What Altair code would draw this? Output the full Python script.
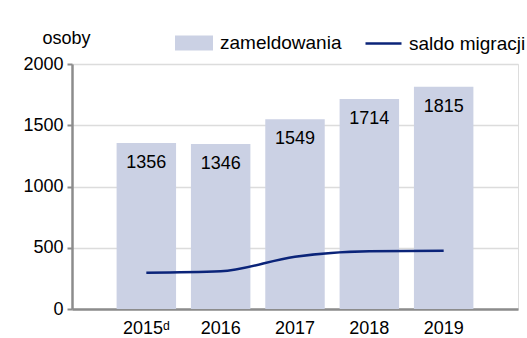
import altair as alt
import pandas as pd

years = ["2015ᵈ", "2016", "2017", "2018", "2019"]
zameldowania = [1356, 1346, 1549, 1714, 1815]
saldo = [296, 308, 427, 471, 476]

df = pd.DataFrame({
    "rok": years,
    "zameldowania": zameldowania,
    "saldo": saldo,
    "s1": ["zameldowania"] * len(years),
    "s2": ["saldo migracji"] * len(years),
})

FONT = "Liberation Sans"
FS = 18
LEG_FS = 19
BAR = "#cbd1e4"
LINE = "#0b2479"

x = alt.X(
    "rok:N",
    sort=years,
    scale=alt.Scale(paddingInner=0.2, paddingOuter=0.6),
    axis=alt.Axis(title=None, labelAngle=0, ticks=False, domainColor="#8c8c8c",
                  domainWidth=2.5, labelPadding=10, labelFontSize=FS,
                  labelColor="#000", labelFont=FONT, grid=False),
)

y_axis = alt.Axis(
    title="osoby", titleAngle=0, titleAlign="center", titleBaseline="middle",
    titleX=-6, titleY=-26, titleFontWeight="normal", titleFontSize=FS,
    titleFont=FONT, titleColor="#000", format="d",
    values=[0, 500, 1000, 1500, 2000], labelFontSize=FS, labelFont=FONT,
    labelColor="#000", labelPadding=4, tickSize=5, tickColor="#8c8c8c",
    tickWidth=2, domainColor="#8c8c8c", domainWidth=2.5,
    gridColor="#dcdcdc", gridWidth=1.5,
)

bars = alt.Chart(df).mark_bar().encode(
    x=x,
    y=alt.Y("zameldowania:Q", scale=alt.Scale(domain=[0, 2000], nice=False), axis=y_axis),
    fill=alt.Fill("s1:N", scale=alt.Scale(domain=["zameldowania"], range=[BAR]),
                  legend=alt.Legend(title=None, orient="none", legendX=103, legendY=-40,
                                    symbolType="M-1,-0.395H1V0.395H-1Z", symbolSize=1444,
                                    symbolStrokeWidth=0, labelFontSize=LEG_FS, labelFont=FONT,
                                    labelColor="#000", labelOffset=7, padding=0)),
)

labels = alt.Chart(df).mark_text(dy=20, fontSize=FS, font=FONT, color="#000", baseline="middle").encode(
    x=alt.X("rok:N", sort=years),
    y=alt.Y("zameldowania:Q"),
    text=alt.Text("zameldowania:Q", format="d"),
)

line = alt.Chart(df).mark_line(interpolate="monotone", strokeWidth=2.5).encode(
    x=alt.X("rok:N", sort=years),
    y=alt.Y("saldo:Q"),
    stroke=alt.Stroke("s2:N", scale=alt.Scale(domain=["saldo migracji"], range=[LINE]),
                      legend=alt.Legend(title=None, orient="none", legendX=292, legendY=-40,
                                        symbolType="M-1,0H1", symbolSize=1296,
                                        symbolStrokeWidth=2.5, labelFontSize=LEG_FS, labelFont=FONT,
                                        labelColor="#000", labelOffset=6, padding=0)),
)

chart = alt.layer(bars, labels, line).resolve_scale(fill="independent", stroke="independent").properties(
    width=446,
    height=245,
    autosize=alt.AutoSizeParams(type="none"),
    padding={"left": 72, "top": 64, "right": 9, "bottom": 29},
).configure_view(stroke=None).configure(background="white")

chart.save("out.html", embed_options={"renderer": "svg", "actions": False})
